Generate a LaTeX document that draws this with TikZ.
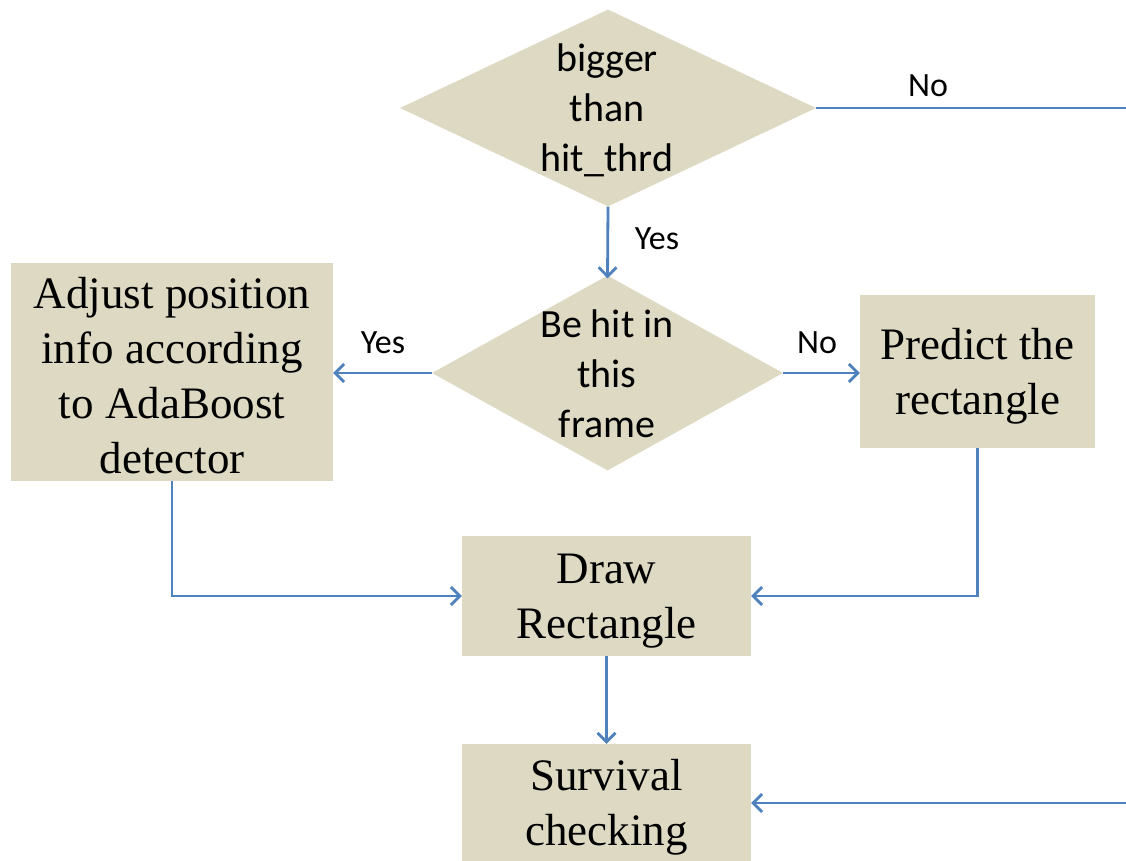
\documentclass[tikz,border=0pt]{standalone}
\usepackage{fontspec}
\setmainfont{Liberation Serif}
\newfontfamily\labfont{Carlito}
\usetikzlibrary{shapes.geometric,arrows.meta}
\definecolor{boxfill}{HTML}{DDD9C3}
\definecolor{flowline}{HTML}{4F81BD}
\tikzset{
  decision/.style={diamond,fill=boxfill,draw=none,inner sep=0pt,
    minimum width=#1},
  dtext/.style={align=center,font=\labfont\fontsize{40pt}{50pt}\selectfont,inner sep=0pt},
  procbox/.style={rectangle,fill=boxfill,draw=none,inner sep=0pt},
  ptext/.style={align=center,inner sep=0pt,font=\fontsize{45pt}{55pt}\selectfont},
  flow/.style={draw=flowline,line width=2.8pt,-{Straight Barb[length=9pt,width=18pt]}},
  flowplain/.style={draw=flowline,line width=2.8pt},
  lbl/.style={font=\labfont\fontsize{34pt}{40pt}\selectfont,inner sep=0pt}
}
\begin{document}
\begin{tikzpicture}[x=1pt,y=-1pt]
  \useasboundingbox (0,0) rectangle (1126,860);
  \clip (0,0) rectangle (1126,860);

  % decisions
  \node[decision=416pt,minimum height=197pt] (d1) at (608,108) {};
  \node[dtext] (d1t) at (607,110) {bigger\\than\\hit\_thrd};
  \node[decision=351pt,minimum height=195pt] (d2) at (607.5,373) {};
  \node[dtext] (d2t) at (607,374) {Be hit in\\this\\frame};

  % process boxes and their texts
  \node[procbox,minimum width=322pt,minimum height=218pt] (adj) at (172,372) {};
  \node[ptext] (adjt) at (172,376) {Adjust position\\info according\\to AdaBoost\\detector};
  \node[procbox,minimum width=235pt,minimum height=153pt] (pred) at (977.5,371.5) {};
  \node[ptext] (predt) at (977.5,376) {Predict the\\rectangle};
  \node[procbox,minimum width=289pt,minimum height=120pt] (drw) at (606.5,596) {};
  \node[ptext] (drwt) at (606.5,601) {Draw\\Rectangle};
  \node[procbox,minimum width=289pt,minimum height=120pt] (surv) at (606.5,804) {};
  \node[ptext] (survt) at (606.5,807) {Survival\\checking};

  % free ends at the right margin
  \coordinate (noout) at (1126,108);
  \coordinate (noin) at (1126,803);

  % connectors
  \draw[flowplain] (d1.east) -- (noout);
  \node[lbl] (lno1) at (928,86) {No};

  \draw[flow] (d1.south) -- ([yshift=-3pt]d2.north);
  \node[lbl] (lyes1) at (657,239) {Yes};

  \draw[flow] (d2.west) -- (d2.west -| adj.east);
  \node[lbl] (lyes2) at (383,343) {Yes};

  \draw[flow] (d2.east) -- (d2.east -| pred.west);
  \node[lbl] (lno2) at (817,343) {No};

  \draw[flow] (adj.south) |- (drw.west);
  \draw[flow] (pred.south) |- (drw.east);
  \draw[flow] (drw.south) -- (surv.north);
  \draw[flow] (noin) -- (noin -| surv.east);
\end{tikzpicture}
\end{document}
